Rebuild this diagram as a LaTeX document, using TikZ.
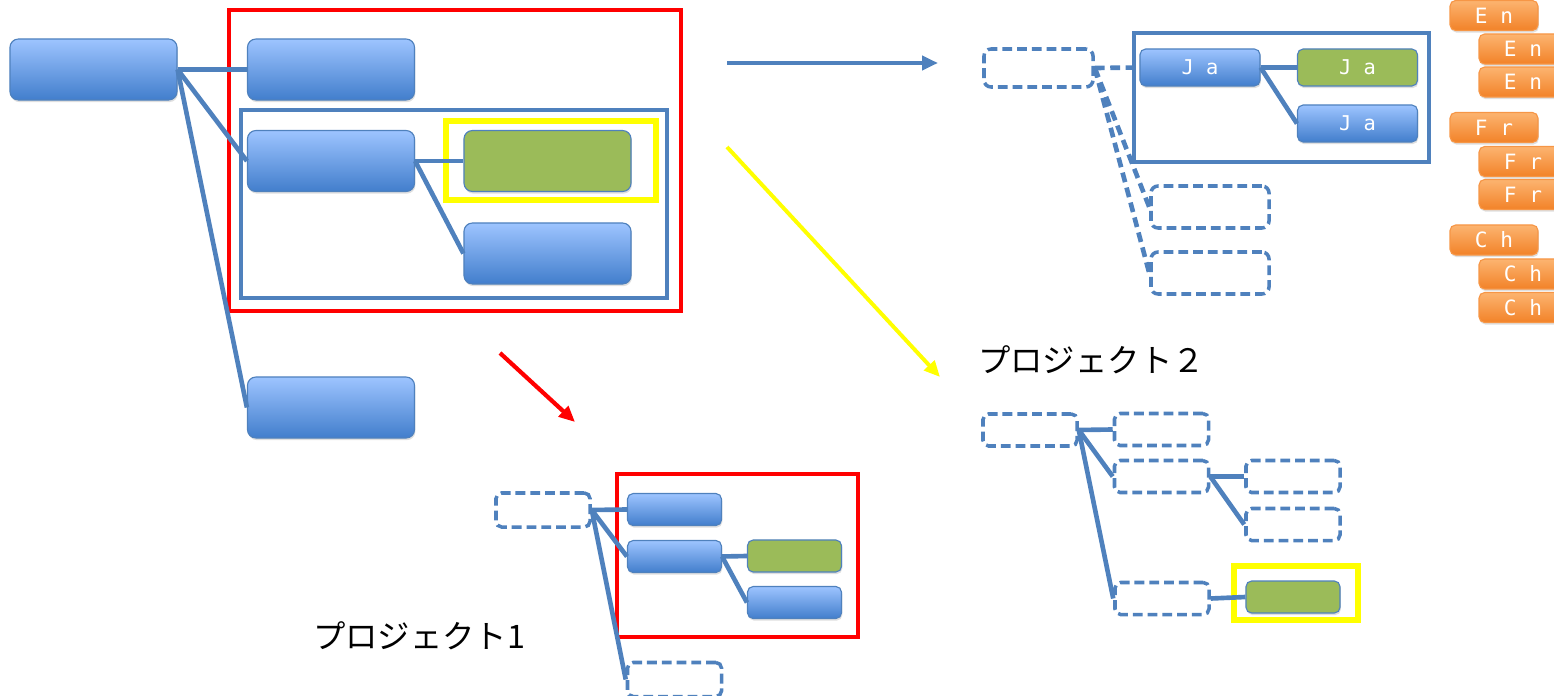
\documentclass[tikz,border=0pt]{standalone}
\usepackage{fontspec}
\newfontfamily\jpfont{Noto Sans CJK JP}
\newfontfamily\monofont{DejaVu Sans Mono}
\usetikzlibrary{arrows.meta,shadows,positioning}
\definecolor{lnblue}{RGB}{79,129,189}
\definecolor{boxtop}{RGB}{157,196,255}
\definecolor{boxbot}{RGB}{66,126,204}
\definecolor{leafgreen}{RGB}{155,187,89}
\definecolor{ortop}{RGB}{252,180,112}
\definecolor{orbot}{RGB}{242,130,40}
\definecolor{orline}{RGB}{246,150,70}
\definecolor{hlyellow}{RGB}{255,255,0}

\begin{document}
\begin{tikzpicture}[
			x=0.025cm,y=-0.025cm,
			bloc/.style={
				draw=lnblue,
				line width=0.8pt,
				rounded corners=6pt,
				inner sep=0pt,
				drop shadow={opacity=0.25,shadow xshift=0.6pt,shadow yshift=-1.5pt},
			},
			bbloc/.style={
				bloc,
				top color=boxtop,
				bottom color=boxbot,
			},
			gbloc/.style={
				bloc,
				fill=leafgreen,
			},
			dbloc/.style={
				draw=lnblue,
				line width=2.5pt,
				dash pattern=on 7pt off 3.5pt,
				rounded corners=5pt,
				fill=white,
				inner sep=0pt,
			},
			big/.style={minimum width=4.175cm,minimum height=1.525cm},
			mid/.style={minimum width=3cm,minimum height=0.925cm,rounded corners=4pt,text=white,font=\monofont\fontsize{14.5}{14.5}\selectfont},
			sml/.style={minimum width=2.35cm,minimum height=0.8cm,rounded corners=4pt},
			obloc/.style={
				draw=orline,
				line width=0.8pt,
				rounded corners=4pt,
				top color=ortop,
				bottom color=orbot,
				minimum width=2.2cm,
				minimum height=0.75cm,
				inner sep=0pt,
				text=white,
				font=\monofont\fontsize{15}{15}\selectfont,
				drop shadow={opacity=0.25,shadow xshift=0.6pt,shadow yshift=-1.5pt},
			},
			link/.style={draw=lnblue,line width=3.3pt},
			dlink/.style={link,dash pattern=on 7pt off 4pt},
			frame/.style={line width=2.8pt},
			bigarrow/.style={line width=3pt,-{Triangle[length=0.4cm,width=0.35cm]}},
			lbl/.style={anchor=west,inner sep=0pt,font=\jpfont\fontsize{23}{23}\selectfont},
		]
		\useasboundingbox (0,0) rectangle (1554,696);
		\clip (0,0) rectangle (1554,696);

		\node[bbloc,big] (r0) at (93.5,69.5) {};
		\node[bbloc,big] (r1) at (331,69.5) {};
		\node[bbloc,big] (r2) at (331,161) {};
		\node[gbloc,big] (r21) at (547.5,161) {};
		\node[bbloc,big] (r22) at (547.5,253.5) {};
		\node[bbloc,big] (r3) at (331,407.5) {};

		\draw[frame,red] (229,10) rectangle (681,311);
		\draw[frame,lnblue] (241,110) rectangle (667,298);
		\draw[frame,hlyellow,line width=3.6pt] (446,121) rectangle (656,200);

		\draw (r0.east) edge[link] (r1.west);
		\draw (r0.east) edge[link] (r2.west);
		\draw (r0.east) edge[link] (r3.west);
		\draw (r2.east) edge[link] (r21.west);
		\draw (r2.east) edge[link] (r22.west);

		\coordinate (ba0) at (727,63);
		\coordinate (ba1) at (938,63);
		\coordinate (ya0) at (727,147);
		\coordinate (ya1) at (940,377);
		\coordinate (ra0) at (500,353);
		\coordinate (ra1) at (575,422);
		\draw[bigarrow,lnblue] (ba0) -- (ba1);
		\draw[bigarrow,hlyellow,line width=2.8pt] (ya0) -- (ya1);
		\draw[bigarrow,red] (ra0) -- (ra1);

		\draw[frame,lnblue] (1134,33) rectangle (1429,162);
		\node[dbloc,minimum width=2.725cm,minimum height=0.95cm] (t0) at (1038.5,68) {};
		\node[bbloc,mid] (t1) at (1200,67.5) {J a};
		\node[gbloc,mid] (t11) at (1357.5,67.5) {J a};
		\node[bbloc,mid] (t12) at (1357.5,123.5) {J a};
		\node[dbloc,minimum width=2.95cm,minimum height=1.05cm] (t2) at (1210,207) {};
		\node[dbloc,minimum width=2.95cm,minimum height=1.05cm] (t3) at (1210,273) {};

		\draw (t0.east) edge[dlink] (t1.west);
		\draw (t0.east) edge[dlink] (t2.west);
		\draw (t0.east) edge[dlink] (t3.west);
		\draw (t1.east) edge[link] (t11.west);
		\draw (t1.east) edge[link] (t12.west);

		\node[obloc] (en1) at (1494,15.5) {E n};
		\node[obloc] (en2) at (1523,49) {E n};
		\node[obloc] (en3) at (1523,82) {E n};
		\node[obloc] (fr1) at (1494,127.5) {F r};
		\node[obloc] (fr2) at (1523,161.5) {F r};
		\node[obloc] (fr3) at (1523,194.5) {F r};
		\node[obloc] (ch1) at (1494,240) {C h};
		\node[obloc] (ch2) at (1523,274) {C h};
		\node[obloc] (ch3) at (1523,307.5) {C h};

		\node[lbl] (pj1) at (313,636) {プロジェクト1};
		\draw[frame,red] (617,474) rectangle (858,637);
		\node[dbloc,sml,minimum height=0.85cm] (p0) at (543,510) {};
		\node[bbloc,sml] (p1) at (674.5,509.5) {};
		\node[bbloc,sml] (p2) at (674.5,556.5) {};
		\node[gbloc,sml] (p21) at (794.5,556) {};
		\node[bbloc,sml] (p22) at (794.5,602.5) {};
		\node[dbloc,sml,minimum height=0.85cm] (p3) at (674.5,679.5) {};

		\draw (p0.east) edge[link] (p1.west);
		\draw (p0.east) edge[link] (p2.west);
		\draw (p0.east) edge[link] (p3.west);
		\draw (p2.east) edge[link] (p21.west);
		\draw (p2.east) edge[link] (p22.west);

		\node[lbl] (pj2) at (978,360) {プロジェクト２};
		\node[dbloc,sml] (q0) at (1030,430) {};
		\node[dbloc,sml] (q1) at (1161.5,429.5) {};
		\node[dbloc,sml] (q2) at (1161.5,476.5) {};
		\node[dbloc,sml] (q21) at (1293,476.5) {};
		\node[dbloc,sml] (q22) at (1293,524.5) {};
		\node[dbloc,sml] (q3) at (1162,598.5) {};
		\node[gbloc,sml] (q31) at (1293,597) {};
		\draw[frame,hlyellow,line width=3.6pt] (1234,566) rectangle (1358,620);

		\draw (q0.east) edge[link] (q1.west);
		\draw (q0.east) edge[link] (q2.west);
		\draw (q0.east) edge[link] (q3.west);
		\draw (q2.east) edge[link] (q21.west);
		\draw (q2.east) edge[link] (q22.west);
		\draw (q3.east) edge[link] (q31.west);

	\end{tikzpicture}
\end{document}
